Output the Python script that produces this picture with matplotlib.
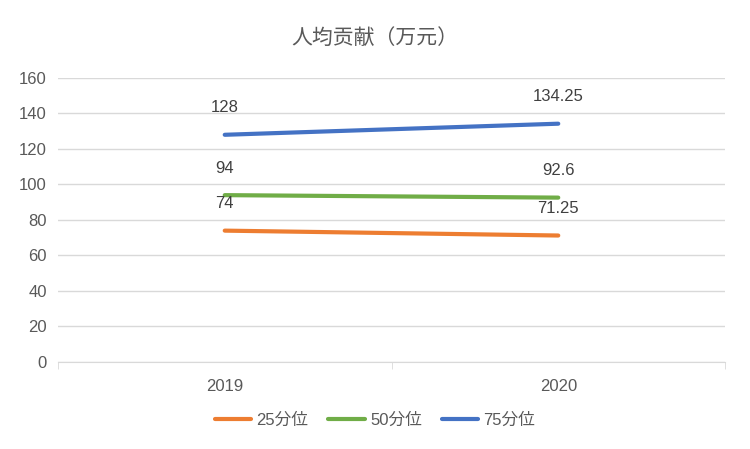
import matplotlib.pyplot as plt
from matplotlib import font_manager

# find a CJK font file and register it
cjk = None
for f in font_manager.findSystemFonts():
    if 'CJK' in f and ('SC' in f or 'Sans' in f):
        try:
            font_manager.fontManager.addfont(f)
            cjk = font_manager.FontProperties(fname=f).get_name()
            if 'SC' in cjk:
                break
        except Exception:
            pass
fams = ['Liberation Sans']
if cjk:
    fams.append(cjk)
fams.append('DejaVu Sans')
plt.rcParams['font.family'] = fams

years = ['2019', '2020']
p25 = [74, 71.25]
p50 = [94, 92.6]
p75 = [128, 134.25]
labels25 = ['74', '71.25']
labels50 = ['94', '92.6']
labels75 = ['128', '134.25']

fig = plt.figure(figsize=(7.5, 4.49), dpi=100)
ax = fig.add_axes([0.0773, 0.1938, 0.8894, 0.6325])

x = [0.5, 1.5]
series = [(p25, labels25, '#ED7D31', '25分位'),
          (p50, labels50, '#70AD47', '50分位'),
          (p75, labels75, '#4472C4', '75分位')]
for vals, labs, col, name in series:
    ax.plot(x, vals, color=col, lw=3, label=name, solid_capstyle='round')
    for xi, v, t in zip(x, vals, labs):
        ax.annotate(t, (xi, v), xytext=(0, 14), textcoords='offset points',
                    ha='center', va='bottom', fontsize=12, color='#404040')

ax.set_xlim(0, 2)
ax.set_ylim(0, 160)
ax.set_yticks(range(0, 161, 20))
ax.set_xticks(x)
ax.set_xticklabels(years)
ax.set_xticks([0, 1, 2], minor=True)
ax.tick_params(axis='x', which='major', length=0, pad=12)
ax.tick_params(axis='x', which='minor', length=5, color='#D9D9D9')
ax.tick_params(axis='y', length=0, pad=8)
ax.tick_params(labelsize=12, labelcolor='#595959')
ax.grid(axis='y', color='#D9D9D9', lw=1)
ax.set_axisbelow(True)
for s in ['top', 'right', 'left']:
    ax.spines[s].set_visible(False)
ax.spines['bottom'].set_color('#D9D9D9')

fig.text(0.5, 0.915, '人均贡献（万元）', ha='center', va='center', fontsize=15, color='#595959')
fig.legend(loc='center', bbox_to_anchor=(0.5, 0.065), ncol=3, frameon=False,
           fontsize=12, labelcolor='#595959', handlelength=2.2, columnspacing=1.2,
           handletextpad=0.3)

fig.savefig('out.png', dpi=100)
